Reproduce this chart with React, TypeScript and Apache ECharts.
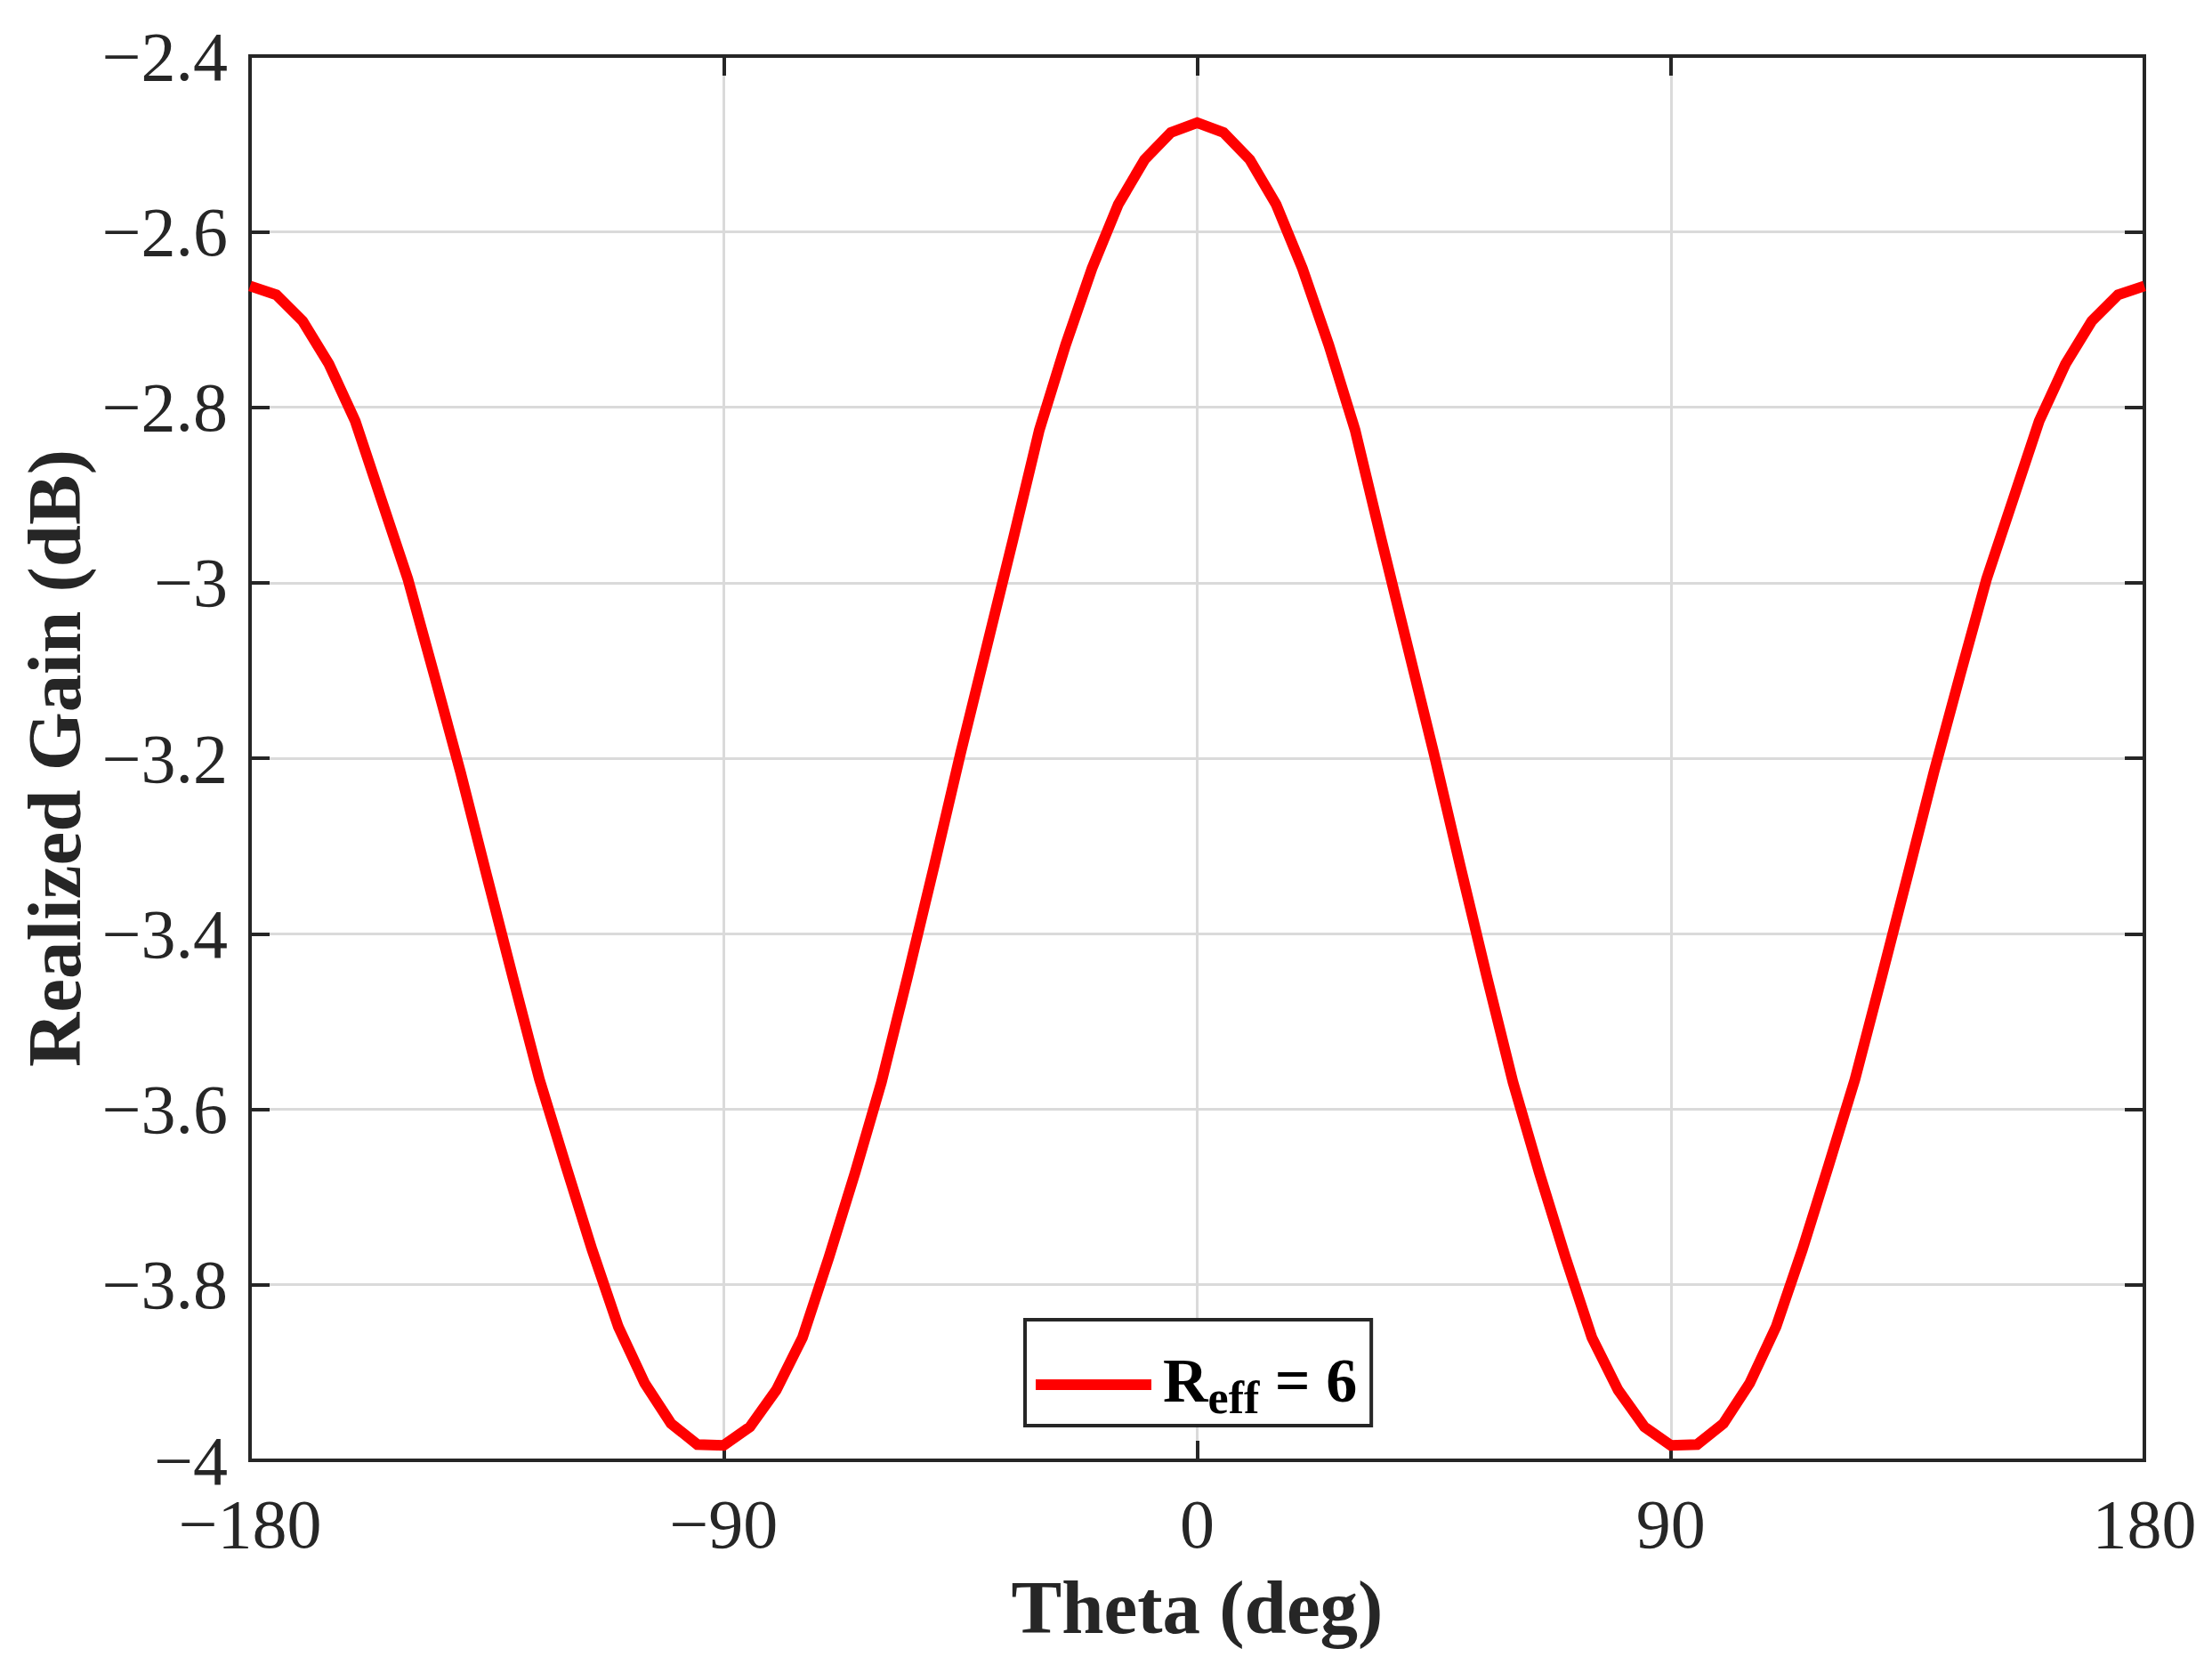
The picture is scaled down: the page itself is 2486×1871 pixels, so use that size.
import React, { useEffect, useRef } from "react";
import * as echarts from "echarts";

// Theta (deg), sampled every 5 degrees
const thetaDeg = [
  -180, -175, -170, -165, -160, -155, -150, -145, -140, -135, -130, -125,
  -120, -115, -110, -105, -100, -95, -90, -85, -80, -75, -70, -65,
  -60, -55, -50, -45, -40, -35, -30, -25, -20, -15, -10, -5,
  0, 5, 10, 15, 20, 25, 30, 35, 40, 45, 50, 55,
  60, 65, 70, 75, 80, 85, 90, 95, 100, 105, 110, 115,
  120, 125, 130, 135, 140, 145, 150, 155, 160, 165, 170, 175, 180,
];

// Realized gain (dB) for R_eff = 6
const gainReff6 = [
  -2.662, -2.672, -2.702, -2.751, -2.816, -2.906, -2.996, -3.105, -3.216, -3.334, -3.451, -3.566,
  -3.664, -3.76, -3.848, -3.912, -3.958, -3.982, -3.983, -3.962, -3.92, -3.86, -3.769, -3.672,
  -3.569, -3.448, -3.323, -3.195, -3.073, -2.951, -2.826, -2.729, -2.642, -2.569, -2.518, -2.487,
  -2.476, -2.487, -2.518, -2.569, -2.642, -2.729, -2.826, -2.951, -3.073, -3.195, -3.323, -3.448,
  -3.569, -3.672, -3.769, -3.86, -3.92, -3.962, -3.983, -3.982, -3.958, -3.912, -3.848, -3.76,
  -3.664, -3.566, -3.451, -3.334, -3.216, -3.105, -2.996, -2.906, -2.816, -2.751, -2.702, -2.672, -2.662,
];

const seriesName = "R_eff = 6";
const xTitle = "Theta (deg)";
const yTitle = "Realized Gain (dB)";
const xTicks = { min: -180, max: 180, interval: 90 };
const yTicks = { min: -4, max: -2.4, interval: 0.2 };

const FONT = "'Liberation Serif', 'Times New Roman', serif";
const AXIS_COLOR = "#262626";
const GRID_COLOR = "#dadada";

const fmt = (v: number) => String(Math.round(v * 10) / 10).replace("-", "\u2212");

export default function App() {
  const ref = useRef<HTMLDivElement>(null);

  useEffect(() => {
    if (!ref.current) return;
    const chart = echarts.init(ref.current, undefined, { renderer: "svg" });

    const axisLine = { show: true, onZero: false, lineStyle: { color: AXIS_COLOR, width: 4 } };
    const axisTick = { show: true, inside: true, length: 22, lineStyle: { color: AXIS_COLOR, width: 4 } };
    const splitLine = {
      show: true,
      showMinLine: false,
      showMaxLine: false,
      lineStyle: { color: GRID_COLOR, width: 3 },
    };
    const labelStyle = { fontSize: 78, color: AXIS_COLOR, fontFamily: FONT, formatter: fmt };
    const titleStyle = { fontSize: 85, fontWeight: "bold" as const, color: AXIS_COLOR, fontFamily: FONT };

    chart.setOption({
      animation: false,
      backgroundColor: "#ffffff",
      textStyle: { fontFamily: FONT },
      grid: {
        left: 281,
        right: 76,
        top: 63,
        bottom: 230,
        containLabel: false,
        show: true,
        borderColor: AXIS_COLOR,
        borderWidth: 4,
        backgroundColor: "#ffffff",
      },
      xAxis: [
        {
          type: "value",
          position: "bottom",
          ...xTicks,
          axisLine,
          axisTick,
          axisLabel: { ...labelStyle, margin: 32 },
          splitLine,
          name: xTitle,
          nameLocation: "middle",
          nameGap: 122,
          nameTextStyle: titleStyle,
        },
        {
          type: "value",
          position: "top",
          ...xTicks,
          axisLine,
          axisTick,
          axisLabel: { show: false },
          splitLine: { show: false },
        },
      ],
      yAxis: [
        {
          type: "value",
          position: "left",
          ...yTicks,
          axisLine,
          axisTick,
          axisLabel: { ...labelStyle, margin: 25, lineHeight: 58 },
          splitLine,
          name: yTitle,
          nameLocation: "middle",
          nameGap: 176,
          nameTextStyle: titleStyle,
        },
        {
          type: "value",
          position: "right",
          ...yTicks,
          axisLine,
          axisTick,
          axisLabel: { show: false },
          splitLine: { show: false },
        },
      ],
      legend: {
        data: [seriesName],
        left: 1152,
        top: 1483,
        orient: "horizontal",
        icon: "rect",
        itemWidth: 130,
        itemHeight: 12,
        padding: [6, 16, 6, 12],
        borderColor: AXIS_COLOR,
        borderWidth: 4,
        borderRadius: 0,
        backgroundColor: "#ffffff",
        formatter: () => "{a|R}{s|eff}{r| = 6}",
        textStyle: {
          color: "#000",
          fontFamily: FONT,
          fontWeight: "bold",
          fontSize: 70,
          rich: {
            a: {
              fontSize: 70,
              fontWeight: "bold",
              fontFamily: FONT,
              color: "#000",
              lineHeight: 80,
              verticalAlign: "top",
              padding: [0, 0, 0, 8],
            },
            s: {
              fontSize: 52,
              fontWeight: "bold",
              fontFamily: FONT,
              color: "#000",
              lineHeight: 52,
              verticalAlign: "bottom",
              padding: [55, 0, 0, 0],
            },
            r: {
              fontSize: 70,
              fontWeight: "bold",
              fontFamily: FONT,
              color: "#000",
              lineHeight: 80,
              verticalAlign: "top",
            },
          },
        },
      },
      series: [
        {
          name: seriesName,
          type: "line",
          xAxisIndex: 0,
          yAxisIndex: 0,
          data: thetaDeg.map((t, i) => [t, gainReff6[i]]),
          showSymbol: false,
          symbol: "none",
          clip: true,
          lineStyle: { color: "#ff0000", width: 12, join: "miter" },
          itemStyle: { color: "#ff0000" },
          z: 3,
        },
      ],
    });

    return () => chart.dispose();
  }, []);

  return (
    <div
      ref={ref}
      style={{ position: "fixed", left: 0, top: 0, width: 2486, height: 1871, background: "#fff" }}
    />
  );
}
